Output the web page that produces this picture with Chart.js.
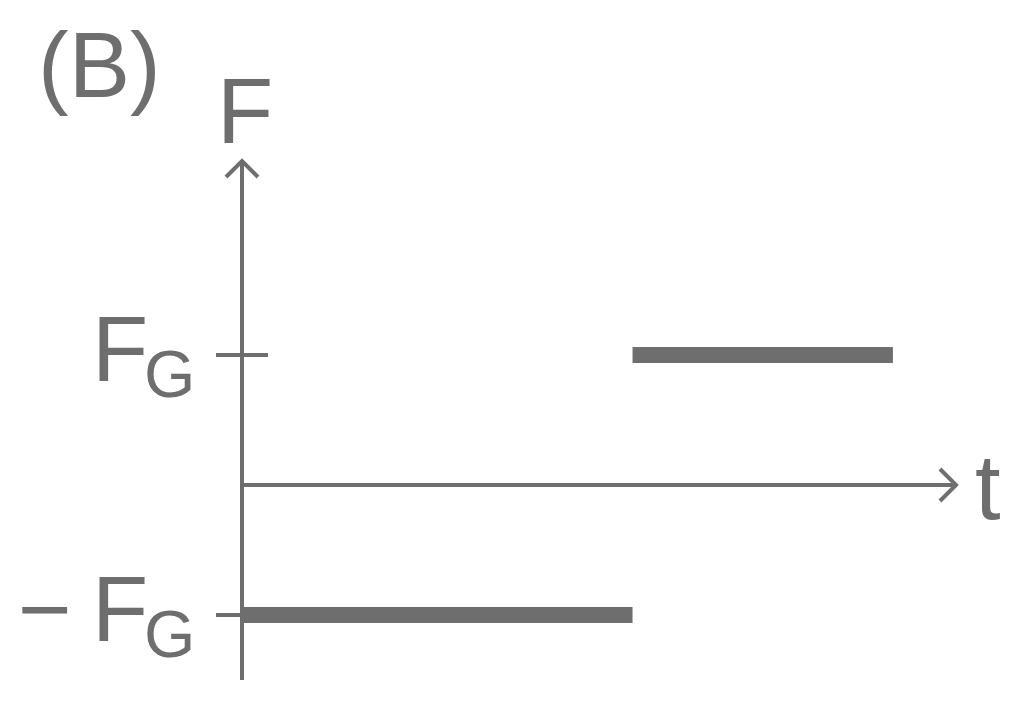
<!DOCTYPE html>
<html>
<head>
<meta charset="utf-8">
<script src="https://cdn.jsdelivr.net/npm/chart.js@4/dist/chart.umd.min.js"></script>
<style>
  html, body { margin: 0; padding: 0; background: #fff; }
  #wrap { width: 1024px; height: 710px; }
</style>
</head>
<body>
<div id="wrap"><canvas id="grafico" width="1024" height="710"></canvas></div>
<script>
// dados do grafico (B): forca em funcao do tempo
const segInicio = [0, 3];
const segFim = [3, 5];
const segNivel = [-1, 1];
const tickValores = [1, -1];
const tickSinal = ['', '\u2212'];
const tickBase = ['F', 'F'];
const tickSub = ['G', 'G'];
const eixoX = [0, 5.5];
const eixoY = [-1.5, 2.5];

const cinza = '#6e6e6e';
const fonte = '"Liberation Sans", Arial, sans-serif';

// cria os datasets a partir dos segmentos
let datasets = [];
for (let i = 0; i < segInicio.length; i++) {
    datasets.push({
        data: [{x: segInicio[i], y: segNivel[i]}, {x: segFim[i], y: segNivel[i]}],
        borderColor: cinza,
        borderWidth: 16,
        borderCapStyle: 'butt',
        pointRadius: 0,
        tension: 0,
        clip: false
    });
}

// desenha eixos com setas, ticks e textos
const eixosPlugin = {
    id: 'eixos',
    beforeDatasetsDraw(chart) {
        const ctx = chart.ctx;
        const sx = chart.scales.x, sy = chart.scales.y;
        const x0 = sx.getPixelForValue(0), y0 = sy.getPixelForValue(0);
        const xMax = sx.getPixelForValue(eixoX[1]);
        const yTop = sy.getPixelForValue(eixoY[1]), yBot = sy.getPixelForValue(eixoY[0]);
        ctx.save();
        ctx.strokeStyle = cinza;
        ctx.lineWidth = 4;
        ctx.lineCap = 'butt';
        // eixo y
        ctx.beginPath();
        ctx.moveTo(x0, yBot);
        ctx.lineTo(x0, yTop + 1);
        ctx.stroke();
        // eixo x
        ctx.beginPath();
        ctx.moveTo(x0, y0);
        ctx.lineTo(xMax - 1, y0);
        ctx.stroke();
        // setas
        ctx.lineJoin = 'miter';
        ctx.beginPath();
        ctx.moveTo(x0 - 16, yTop + 17);
        ctx.lineTo(x0, yTop + 1);
        ctx.lineTo(x0 + 16, yTop + 17);
        ctx.stroke();
        ctx.beginPath();
        ctx.moveTo(xMax - 18, y0 - 16);
        ctx.lineTo(xMax - 2, y0);
        ctx.lineTo(xMax - 18, y0 + 16);
        ctx.stroke();
        // ticks
        for (let i = 0; i < tickValores.length; i++) {
            const ty = sy.getPixelForValue(tickValores[i]);
            ctx.beginPath();
            ctx.moveTo(x0 - 26, ty);
            ctx.lineTo(x0 + 26, ty);
            ctx.stroke();
        }
        ctx.restore();
    },
    afterDatasetsDraw(chart) {
        const ctx = chart.ctx;
        const sx = chart.scales.x, sy = chart.scales.y;
        const x0 = sx.getPixelForValue(0), y0 = sy.getPixelForValue(0);
        const xMax = sx.getPixelForValue(eixoX[1]);
        const yTop = sy.getPixelForValue(eixoY[1]);
        ctx.save();
        ctx.fillStyle = cinza;
        ctx.textBaseline = 'alphabetic';
        ctx.textAlign = 'left';
        ctx.font = '92px ' + fonte;
        ctx.fillText('(B)', 38, 97);
        ctx.fillText('F', x0 - 25, yTop - 17);
        ctx.fillText('t', xMax + 17, y0 + 34);
        for (let i = 0; i < tickValores.length; i++) {
            const ty = sy.getPixelForValue(tickValores[i]);
            ctx.font = '92px ' + fonte;
            ctx.fillText(tickBase[i], x0 - 150, ty + 26);
            if (tickSinal[i]) {
                ctx.fillText(tickSinal[i], x0 - 224, ty + 26);
            }
            ctx.font = '66px ' + fonte;
            ctx.fillText(tickSub[i], x0 - 98, ty + 42);
        }
        ctx.restore();
    }
};

const ctx = document.getElementById('grafico').getContext('2d');
const grafico = new Chart(ctx, {
    type: 'line',
    data: { datasets: datasets },
    options: {
        responsive: false,
        animation: false,
        devicePixelRatio: 1,
        layout: { padding: { left: 242, right: 66, top: 160, bottom: 30 } },
        plugins: { legend: { display: false }, tooltip: { enabled: false } },
        scales: {
            x: { type: 'linear', min: eixoX[0], max: eixoX[1], display: false },
            y: { type: 'linear', min: eixoY[0], max: eixoY[1], display: false }
        }
    },
    plugins: [eixosPlugin]
});
</script>
</body>
</html>
